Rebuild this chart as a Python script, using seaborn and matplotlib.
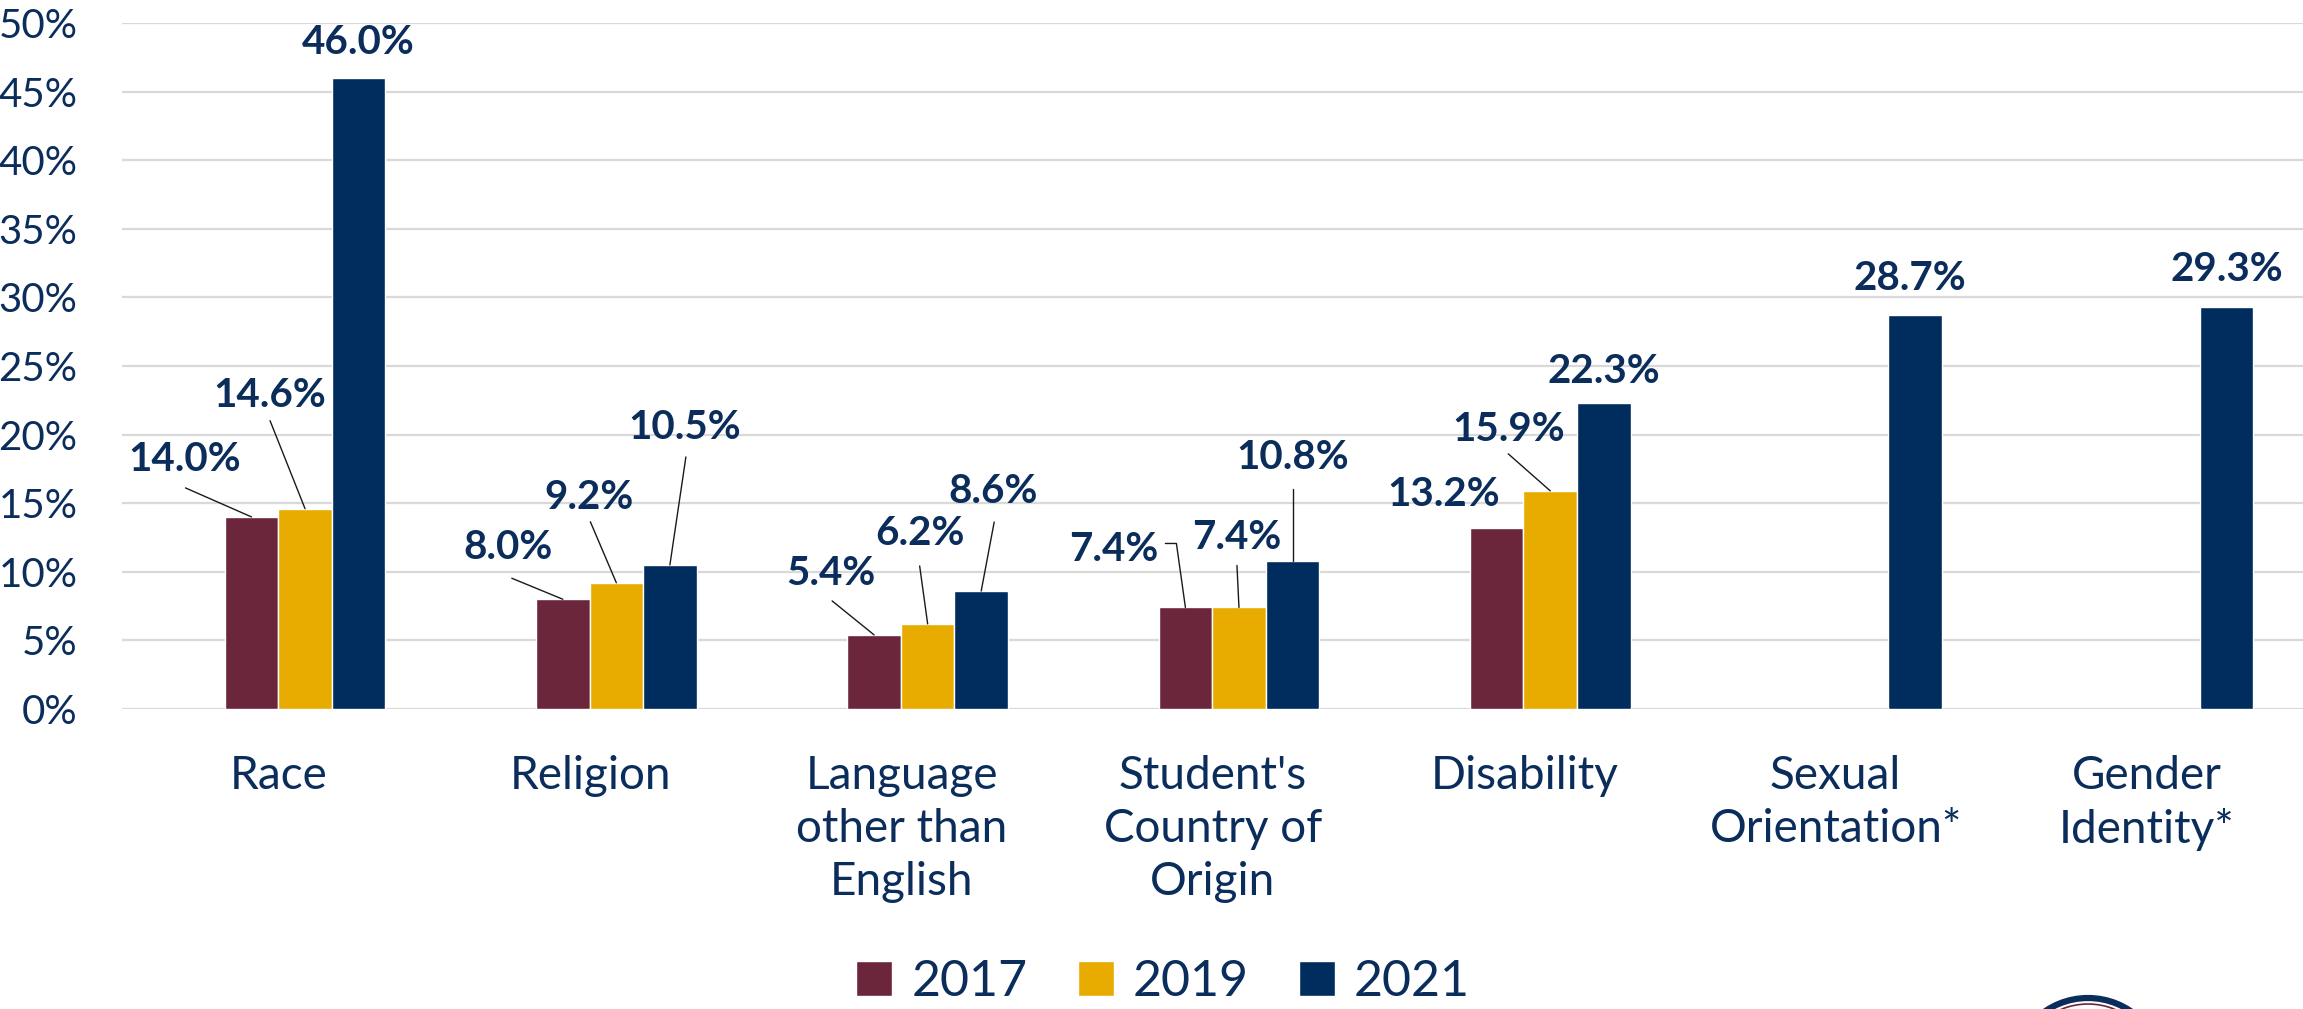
import numpy as np, pandas as pd
import matplotlib; matplotlib.use("Agg")
import matplotlib.pyplot as plt
from matplotlib.patches import Patch, Circle
from matplotlib.transforms import ScaledTranslation
import seaborn as sns

sns.set_style("white")
plt.rcParams["font.family"] = ["Lato", "DejaVu Sans"]

CATEGORIES = ["Race", "Religion", "Language\nother than\nEnglish",
              "Student's\nCountry of\nOrigin", "Disability",
              "Sexual\nOrientation*", "Gender\nIdentity*"]
YEARS = ["2017", "2019", "2021"]
V2017 = [14.0, 8.0, 5.4, 7.4, 13.2, None, None]
V2019 = [14.6, 9.2, 6.2, 7.4, 15.9, None, None]
V2021 = [46.0, 10.5, 8.6, 10.8, 22.3, 28.7, 29.3]

COLORS = ["#6B263B", "#E8AB00", "#002D5D"]
TEXT = "#0B2D5B"

# label placement (pixels from bar-top centre: dx, up) and leader line points
LABELS = {
    (0, "2017"): ((-67, 57), [(-66, 29), (0, 0)]),
    (0, "2019"): ((-35, 113), [(-35, 88), (0, 0)]),
    (0, "2021"): ((0, 35), None),
    (1, "2017"): ((-55, 52), [(-51, 21), (0, 0)]),
    (1, "2019"): ((-27, 85), [(-26, 61), (0, 0)]),
    (1, "2021"): ((15, 137), [(16, 108), (0, 0)]),
    (2, "2017"): ((-43, 61), [(-42, 34), (0, 0)]),
    (2, "2019"): ((-8, 90), [(-8, 58), (0, 0)]),
    (2, "2021"): ((12, 100), [(13, 69), (0, 0)]),
    (3, "2017"): ((-72, 58), [(-20, 64), (-9, 64), (0, 0)]),
    (3, "2019"): ((-2, 70), [(-2, 42), (0, 0)]),
    (3, "2021"): ((0, 103), [(0, 72), (0, 0)]),
    (4, "2017"): ((-53, 33), None),
    (4, "2019"): ((-42, 61), [(-42, 37), (0, 0)]),
    (4, "2021"): ((0, 32), None),
    (5, "2021"): ((-5, 37), None),
    (6, "2021"): ((0, 38), None),
}

rows = []
for yr, vals in zip(YEARS, [V2017, V2019, V2021]):
    for cat, v in zip(CATEGORIES, vals):
        if v is not None:
            rows.append({"category": cat, "year": yr, "value": v})
df = pd.DataFrame(rows)

W, H = 2303, 1009
fig = plt.figure(figsize=(W / 100, H / 100), dpi=100)
ax = fig.add_axes([122 / W, 1 - 709 / H, (W - 122) / W, (709 - 23) / H])

sns.barplot(data=df, x="category", y="value", hue="year", order=CATEGORIES,
            hue_order=YEARS, palette=COLORS, saturation=1, width=0.516,
            errorbar=None, legend=False, ax=ax, zorder=2)

ax.set_xlim(-0.588, 6.418)
ax.set_ylim(0, 50)
ax.set_yticks(np.arange(0, 51, 5))
ax.set_yticklabels([f"{v}%" for v in range(0, 51, 5)])
ax.yaxis.grid(True, color="#D9D9D9", lw=1.6)
ax.set_axisbelow(True)
for s in ax.spines.values():
    s.set_visible(False)
ax.set_xlabel(""); ax.set_ylabel("")
ax.tick_params(axis="y", length=0, pad=32, labelsize=29, labelcolor=TEXT)
ax.tick_params(axis="x", length=0, pad=33, labelsize=33, labelcolor=TEXT)
shift = ScaledTranslation(-26 / 100, 0, fig.dpi_scale_trans)
for lbl in ax.get_xticklabels():
    lbl.set_transform(lbl.get_transform() + shift)
    lbl.set_linespacing(1.33)

to_disp = ax.transData
to_data = ax.transData.inverted()
for cont, yr in zip(ax.containers, YEARS):
    for bar in cont:
        h = bar.get_height()
        if np.isnan(h):
            continue
        bx = bar.get_x() + bar.get_width() / 2
        ci = int(round(bx))
        key = (ci, yr)
        if key not in LABELS:
            continue
        (dx, up), leader = LABELS[key]
        px, py = to_disp.transform((bx, h))
        tx, ty = to_data.transform((px + dx, py + up))
        ax.text(tx, ty, f"{h:.1f}%", ha="center", va="center", fontsize=29,
                fontweight="bold", color=TEXT, zorder=4)
        if leader:
            pts = to_data.transform([(px + a, py + b) for a, b in leader])
            ax.plot(pts[:, 0], pts[:, 1], color="#1a1a1a", lw=1.0, zorder=3,
                    clip_on=False)

handles = [Patch(facecolor=c, label=y) for c, y in zip(COLORS, YEARS)]
fig.legend(handles=handles, loc="center", bbox_to_anchor=(1163 / W, 1 - 982 / H),
           ncol=3, frameon=False, fontsize=36, handlelength=0.72, handleheight=0.72,
           handletextpad=0.38, columnspacing=1.0, labelcolor=TEXT)

# partial seal in the bottom-right corner
cx, cy = 2088 / 100, (H - 1074) / 100
fig.add_artist(Circle((cx, cy), 0.76, transform=fig.dpi_scale_trans, fill=False,
                      edgecolor="#0B2D5B", lw=4.5))
fig.add_artist(Circle((cx, cy), 0.70, transform=fig.dpi_scale_trans, fill=False,
                      edgecolor="#6B263B", lw=1.2))

fig.savefig("out.png", dpi=100)
